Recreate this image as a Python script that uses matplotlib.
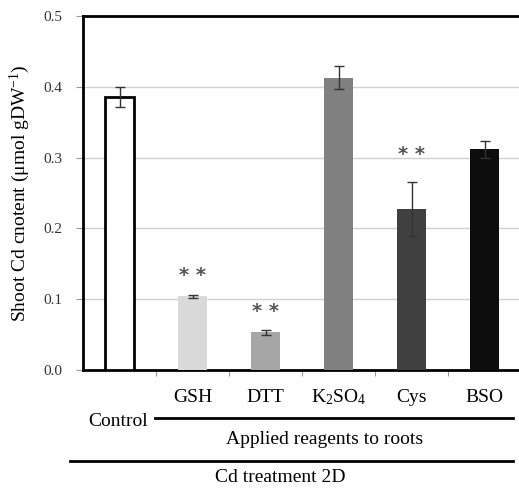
import matplotlib
matplotlib.use("Agg")
import matplotlib.pyplot as plt
from matplotlib.lines import Line2D

## Données

groupes = ['Control', 'GSH', 'DTT', 'K$_2$SO$_4$', 'Cys', 'BSO']
valeurs = [0.386, 0.104, 0.053, 0.413, 0.227, 0.312]
erreurs = [0.014, 0.002, 0.004, 0.016, 0.038, 0.012]
couleurs = ['#ffffff', '#d9d9d9', '#a6a6a6', '#808080', '#404040', '#0d0d0d']
etoiles = ['', '**', '**', '', '**', '']
etoiles_y = [0, 0.134, 0.083, 0, 0.304, 0]

## Style

plt.rcParams['font.family'] = ['Liberation Serif', 'DejaVu Serif']
plt.rcParams['mathtext.fontset'] = 'custom'
plt.rcParams['mathtext.rm'] = 'Liberation Serif'
plt.rcParams['mathtext.it'] = 'Liberation Serif:italic'

W, H = 519, 488
fig = plt.figure(figsize=(W / 100, H / 100), dpi=100)
ax = fig.add_axes([83 / W, 1 - 370 / H, 438 / W, 354 / H])

x = list(range(len(groupes)))
bords = ['black'] + ['none'] * 5
ax.bar(x, valeurs, width=0.4, color=couleurs, edgecolor=bords, linewidth=2, zorder=3)
ax.errorbar(x, valeurs, yerr=erreurs, fmt='none', ecolor='#333333', elinewidth=1,
            capsize=3.5, capthick=1, zorder=4)

for k in range(len(groupes)):
    if etoiles[k]:
        ax.text(x[k], etoiles_y[k], '* *', ha='center', va='center',
                fontsize=14, color='#555555', family='DejaVu Sans', fontweight='bold')

ax.set_xlim(-0.5, 5.5)
ax.set_ylim(0, 0.5)
ax.set_yticks([0.0, 0.1, 0.2, 0.3, 0.4, 0.5])
ax.set_yticklabels(['0.0', '0.1', '0.2', '0.3', '0.4', '0.5'], fontsize=11, color='#333333')
ax.yaxis.grid(True, color='#d0d0d0', linewidth=1, zorder=0)
ax.set_axisbelow(True)

ax.set_xticks([0.5, 1.5, 2.5, 3.5, 4.5])
ax.set_xticklabels([])
ax.tick_params(axis='x', length=4, color='#999999', direction='out')
ax.tick_params(axis='y', length=5, color='#999999', direction='out', pad=10)

for nom in ['top', 'left', 'bottom']:
    ax.spines[nom].set_linewidth(2)
    ax.spines[nom].set_color('black')
ax.spines['right'].set_visible(False)

ax.set_ylabel('Shoot Cd cnotent (\u03bcmol gDW$^{-1}$)', fontsize=14, labelpad=8)

## Étiquettes sous l'axe

def fx(px):
    return px / W

def fy(py):
    return 1 - py / H

for k in range(1, len(groupes)):
    px = 83 + 73 * (k + 0.5)
    fig.text(fx(px), fy(397), groupes[k], ha='center', va='center', fontsize=14)

fig.text(fx(118), fy(422), 'Control', ha='center', va='center', fontsize=14)
fig.add_artist(Line2D([fx(155), fx(513)], [fy(418), fy(418)], color='black', linewidth=2))
fig.text(fx(325), fy(440), 'Applied reagents to roots', ha='center', va='center', fontsize=14)
fig.add_artist(Line2D([fx(70), fx(513)], [fy(461), fy(461)], color='black', linewidth=2))
fig.text(fx(280), fy(478), 'Cd treatment 2D', ha='center', va='center', fontsize=14)

plt.savefig('out.png', dpi=100)
